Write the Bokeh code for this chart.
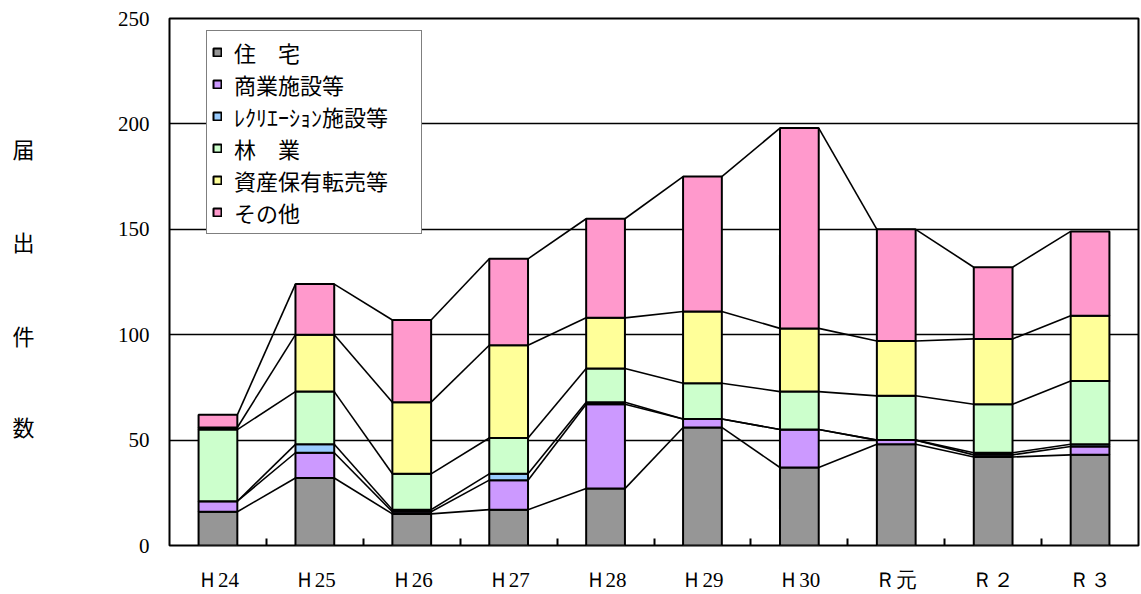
from bokeh.plotting import figure
from bokeh.models import ColumnDataSource, FixedTicker, Legend, LegendItem, LinearAxis, Range1d
from bokeh.embed import file_html
from bokeh.resources import INLINE

categories = ["Ｈ24", "Ｈ25", "Ｈ26", "Ｈ27", "Ｈ28", "Ｈ29", "Ｈ30", "Ｒ元", "Ｒ２", "Ｒ３"]
series_names = ["住　宅", "商業施設等", "ﾚｸﾘｴｰｼｮﾝ施設等", "林　業", "資産保有転売等", "その他"]
housing    = [16, 32, 15, 17, 27, 56, 37, 48, 42, 43]
commercial = [5, 12, 1, 14, 40, 4, 18, 2, 1, 4]
recreation = [0, 4, 1, 3, 1, 0, 0, 0, 1, 1]
forestry   = [34, 25, 17, 17, 16, 17, 18, 21, 23, 30]
assets     = [1, 27, 34, 44, 24, 34, 30, 26, 31, 31]
other      = [6, 24, 39, 41, 47, 64, 95, 53, 34, 40]
colors = ["#969696", "#CC99FF", "#99CCFF", "#CCFFCC", "#FFFF99", "#FF99CC"]
y_ticks = [0, 50, 100, 150, 200, 250]
y_title = ["届", "出", "件", "数"]
y_title_pos = [188.5, 144.3, 99.8, 56.8]   # where each title character sits on the y scale

series = [housing, commercial, recreation, forestry, assets, other]
n = len(categories)
centers = [i + 0.5 for i in range(n)]
bar_w = 0.4

p = figure(width=1141, height=594, output_backend="svg", toolbar_location=None,
           x_range=Range1d(0, n), y_range=Range1d(0, 250),
           min_border_left=169, min_border_right=3, min_border_top=18, min_border_bottom=47)

p.background_fill_color = "white"
p.border_fill_color = "white"
p.outline_line_color = "black"
p.outline_line_width = 2
p.xgrid.visible = False
p.ygrid.ticker = FixedTicker(ticks=[50, 100, 150, 200])
p.ygrid.grid_line_color = "black"
p.ygrid.grid_line_width = 1.5

# stacked bars
bottoms = [0] * n
cums = []
items = []
for k, vals in enumerate(series):
    tops = [b + v for b, v in zip(bottoms, vals)]
    src = ColumnDataSource(dict(x=centers, bottom=bottoms, top=tops))
    r = p.vbar(x="x", width=bar_w, bottom="bottom", top="top", source=src,
               fill_color=colors[k], line_color="black", line_width=2)
    items.append(LegendItem(label=series_names[k], renderers=[r]))
    cums.append(tops)
    bottoms = tops

# connecting lines between stacked levels
x0, y0, x1, y1 = [], [], [], []
for tops in cums:
    for i in range(n - 1):
        x0.append(centers[i] + bar_w / 2)
        y0.append(tops[i])
        x1.append(centers[i + 1] - bar_w / 2)
        y1.append(tops[i + 1])
p.segment(x0=x0, y0=y0, x1=x1, y1=y1, line_color="black", line_width=1.6)

# x axis
p.xaxis.ticker = FixedTicker(ticks=centers, minor_ticks=list(range(1, n)))
p.xaxis.major_label_overrides = {c: lab for c, lab in zip(centers, categories)}
p.xaxis.major_tick_in = 0
p.xaxis.major_tick_out = 0
p.xaxis.minor_tick_in = 7
p.xaxis.minor_tick_out = 0
p.xaxis.minor_tick_line_color = "black"
p.xaxis.minor_tick_line_width = 2
p.xaxis.axis_line_color = None
p.xaxis.major_label_standoff = 22
p.xaxis.major_label_text_font = "Liberation Serif"
p.xaxis.major_label_text_font_size = "21px"
p.xaxis.major_label_text_color = "black"

# y axis
p.yaxis.ticker = FixedTicker(ticks=y_ticks)
p.yaxis.major_tick_in = 0
p.yaxis.major_tick_out = 0
p.yaxis.minor_tick_line_color = None
p.yaxis.axis_line_color = None
p.yaxis.major_label_standoff = 20
p.yaxis.major_label_text_font = "Liberation Serif"
p.yaxis.major_label_text_font_size = "21px"
p.yaxis.major_label_text_color = "black"

# y title: one character per row, drawn as an outer left axis
title_axis = LinearAxis(ticker=FixedTicker(ticks=y_title_pos),
                        major_label_overrides={v: ch for v, ch in zip(y_title_pos, y_title)},
                        axis_line_color=None, major_tick_line_color=None, minor_tick_line_color=None,
                        major_tick_in=0, major_tick_out=0, major_label_standoff=80,
                        major_label_text_font="Noto Sans CJK JP", major_label_text_font_size="22px",
                        major_label_text_color="black")
p.add_layout(title_axis, "left")

legend = Legend(items=items, location=(37, 311), orientation="vertical",
                label_text_font="Noto Sans CJK JP", label_text_font_size="22px",
                label_text_color="black", glyph_width=10, glyph_height=10,
                label_height=20, label_width=182, spacing=0, padding=5, label_standoff=12,
                border_line_color="black", border_line_width=1.5,
                background_fill_color="white", background_fill_alpha=1.0, margin=0)
p.add_layout(legend, "center")

open("out.html", "w").write(file_html(p, INLINE))
